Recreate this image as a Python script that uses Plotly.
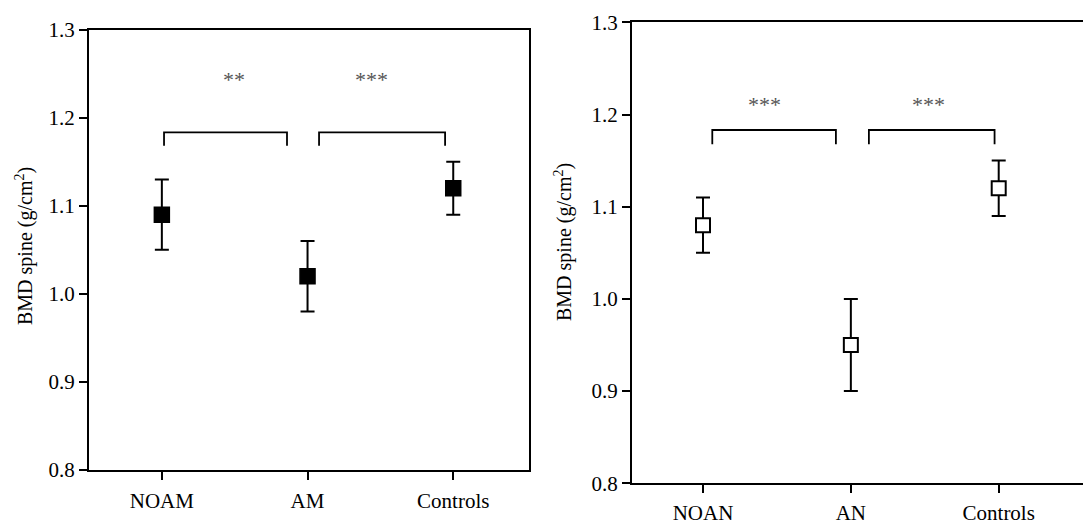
import plotly.graph_objects as go

# ---- data ----
left_groups = ["NOAM", "AM", "Controls"]
left_mean = [1.09, 1.02, 1.12]
left_upper = [1.13, 1.06, 1.15]
left_lower = [1.05, 0.98, 1.09]

right_groups = ["NOAN", "AN", "Controls"]
right_mean = [1.08, 0.95, 1.12]
right_upper = [1.11, 1.00, 1.15]
right_lower = [1.05, 0.90, 1.09]

left_sig = ["**", "***"]
right_sig = ["***", "***"]

y_ticks = [0.8, 0.9, 1.0, 1.1, 1.2, 1.3]
y_title = "BMD spine (g/cm<sup>2</sup>)"

FONT = "Liberation Serif, Times New Roman, serif"
W, H = 1083, 523

fig = go.Figure()

def add_series(xref, yref, means, upper, lower, filled):
    xs = list(range(len(means)))
    fig.add_trace(go.Scatter(
        x=xs, y=means, mode="markers", xaxis=xref, yaxis=yref,
        marker=dict(symbol="square", size=15 if filled else 14,
                    color="black" if filled else "white",
                    line=dict(color="black", width=1.5 if filled else 2)),
        error_y=dict(type="data", symmetric=False,
                     array=[u - m for u, m in zip(upper, means)],
                     arrayminus=[m - l for m, l in zip(means, lower)],
                     color="black", thickness=2, width=7),
        showlegend=False, hoverinfo="skip"))

add_series("x", "y", left_mean, left_upper, left_lower, True)
add_series("x2", "y2", right_mean, right_upper, right_lower, False)

# brackets
def bracket(xref, yref, x0, x1, ytop, yend):
    fig.add_shape(type="path", xref=xref, yref=yref,
                  path=f"M {x0} {yend} L {x0} {ytop} L {x1} {ytop} L {x1} {yend}",
                  line=dict(color="black", width=1.8))

bracket("x", "y", 0.015, 0.859, 1.1835, 1.1683)
bracket("x", "y", 1.079, 1.944, 1.1835, 1.1683)
bracket("x2", "y2", 0.063, 0.899, 1.1832, 1.1677)
bracket("x2", "y2", 1.122, 1.972, 1.1832, 1.1677)

def star(xref, yref, x, y, txt):
    fig.add_annotation(x=x, y=y, xref=xref, yref=yref, text=txt, showarrow=False,
                       font=dict(family=FONT, size=22, color="#555555"),
                       xanchor="center", yanchor="middle")

star("x", "y", 0.495, 1.244, left_sig[0])
star("x", "y", 1.436, 1.244, left_sig[1])
star("x2", "y2", 0.419, 1.2105, right_sig[0])
star("x2", "y2", 1.523, 1.2105, right_sig[1])

# y titles
fig.add_annotation(x=24 / W, y=1 - 246 / H, xref="paper", yref="paper", text=y_title,
                   textangle=-90, showarrow=False, xanchor="center", yanchor="middle",
                   font=dict(family=FONT, size=20, color="black"))
fig.add_annotation(x=563 / W, y=1 - 242 / H, xref="paper", yref="paper", text=y_title,
                   textangle=-90, showarrow=False, xanchor="center", yanchor="middle",
                   font=dict(family=FONT, size=20, color="black"))

axis_common = dict(showgrid=False, zeroline=False, showline=True, linecolor="black",
                   linewidth=2, ticks="outside", ticklen=8, tickwidth=2, tickcolor="black",
                   automargin=False,
                   tickfont=dict(family=FONT, size=21, color="black"))

fig.update_layout(
    template="none",
    width=W, height=H,
    margin=dict(l=0, r=0, t=0, b=0, autoexpand=False),
    paper_bgcolor="white", plot_bgcolor="white",
    showlegend=False,
    xaxis=dict(domain=[89 / W, 529 / W], range=[-0.5, 2.52], tickmode="array",
               tickvals=list(range(3)), ticktext=left_groups, mirror=True, anchor="y",
               ticklabelstandoff=3, **axis_common),
    yaxis=dict(domain=[1 - 470 / H, 1 - 29.7 / H], range=[0.8, 1.3], tickvals=y_ticks,
               tickformat=".1f", mirror=True, anchor="x", **axis_common),
    xaxis2=dict(domain=[632 / W, 1.0], range=[-0.48, 2.57], tickmode="array",
                tickvals=list(range(3)), ticktext=right_groups, mirror=True, anchor="y2",
                ticklabelstandoff=1, **axis_common),
    yaxis2=dict(domain=[1 - 483.3 / H, 1 - 22.3 / H], range=[0.8, 1.3], tickvals=y_ticks,
                tickformat=".1f", mirror=False, anchor="x2", **axis_common),
)

fig.write_html("out.html")
